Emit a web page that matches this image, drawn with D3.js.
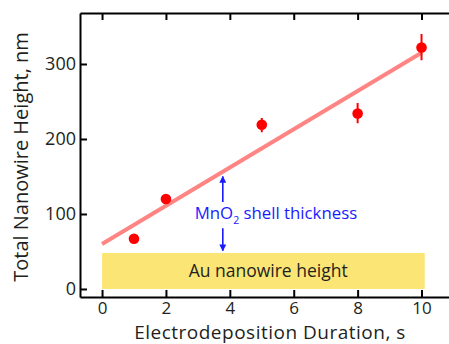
<!DOCTYPE html>
<html>
<head>
<meta charset="utf-8">
<script src="https://cdn.jsdelivr.net/npm/d3@7"></script>
<style>
  body { margin: 0; background: #fff; }
  text { font-family: "Open Sans", sans-serif; fill: #231f20; }
</style>
</head>
<body>
<div id="chart"></div>
<script>
// measured points: duration (s), height (nm), error bar extent
const durations = [1, 2, 5, 8, 10];
const heights = [67, 120, 219, 234, 322];
const errLow = [0, 0, 10, 13, 17];
const errHigh = [0, 0, 9, 14, 18];

// linear fit endpoints
const fitX = [0, 10];
const fitY = [60, 315];

const auHeight = 48;
const arrowX = 3.78;
const xTicks = [0, 2, 4, 6, 8, 10];
const yTicks = [0, 100, 200, 300];

const width = 449, height = 344;
const margin = {top: 13, right: 0, bottom: 47, left: 80};

const svg = d3.select('#chart').append('svg')
  .attr('width', width)
  .attr('height', height);

const x = d3.scaleLinear().domain([-0.69, 10.86]).range([margin.left, width - margin.right]);
const y = d3.scaleLinear().domain([-10.7, 368]).range([height - margin.bottom, margin.top]);

// Au nanowire band
svg.append('rect')
  .attr('x', x(0))
  .attr('y', y(auHeight))
  .attr('width', x(10.1) - x(0))
  .attr('height', y(0) - y(auHeight))
  .style('fill', '#fbe675');

svg.append('text')
  .attr('x', x(5.2))
  .attr('y', y(16))
  .attr('text-anchor', 'middle')
  .style('font-size', '17.5px')
  .text('Au nanowire height');

// fit line
svg.append('line')
  .attr('x1', x(fitX[0])).attr('y1', y(fitY[0]))
  .attr('x2', x(fitX[1])).attr('y2', y(fitY[1]))
  .style('stroke', '#ff8484')
  .style('stroke-width', 4);

// shell thickness arrows
const blue = '#1a1aff';
svg.append('defs').append('marker')
  .attr('id', 'arr')
  .attr('viewBox', '0 0 10 10')
  .attr('refX', 9).attr('refY', 5)
  .attr('markerWidth', 7).attr('markerHeight', 7)
  .attr('markerUnits', 'userSpaceOnUse')
  .attr('orient', 'auto')
  .append('path')
  .attr('d', 'M0,0 L10,5 L0,10 z')
  .style('fill', blue);

svg.append('line')
  .attr('x1', x(arrowX)).attr('y1', y(116))
  .attr('x2', x(arrowX)).attr('y2', y(150))
  .style('stroke', blue).style('stroke-width', 1.6)
  .attr('marker-end', 'url(#arr)');

svg.append('line')
  .attr('x1', x(arrowX)).attr('y1', y(81))
  .attr('x2', x(arrowX)).attr('y2', y(51))
  .style('stroke', blue).style('stroke-width', 1.6)
  .attr('marker-end', 'url(#arr)');

const label = svg.append('text')
  .attr('x', x(2.9))
  .attr('y', y(93))
  .style('font-size', '16.8px')
  .style('fill', blue);
label.append('tspan').style('fill', blue).text('MnO');
label.append('tspan').style('fill', blue).style('font-size', '10.5px').attr('dy', 5).text('2');
label.append('tspan').style('fill', blue).attr('dy', -5).text(' shell thickness');

// error bars
const pts = durations.map((d, i) => ({d: d, h: heights[i], lo: errLow[i], hi: errHigh[i]}));

svg.selectAll('.err')
  .data(pts.filter(p => p.lo + p.hi > 0))
  .enter().append('line')
  .attr('class', 'err')
  .attr('x1', p => x(p.d)).attr('x2', p => x(p.d))
  .attr('y1', p => y(p.h - p.lo)).attr('y2', p => y(p.h + p.hi))
  .style('stroke', '#ff0000')
  .style('stroke-width', 2);

svg.selectAll('.dot')
  .data(pts)
  .enter().append('circle')
  .attr('class', 'dot')
  .attr('cx', p => x(p.d))
  .attr('cy', p => y(p.h))
  .attr('r', 5.3)
  .style('fill', '#ff0000');

// axes (ticks point inward)
const xAxisB = d3.axisBottom(x).tickValues(xTicks).tickSizeInner(-7).tickSizeOuter(0).tickPadding(5);
const xAxisT = d3.axisTop(x).tickValues(xTicks).tickSizeInner(-7).tickSizeOuter(0).tickFormat('');
const yAxisL = d3.axisLeft(y).tickValues(yTicks).tickSizeInner(-7).tickSizeOuter(0).tickPadding(4);

function styleAxis(g, size) {
  g.select('.domain').style('stroke', '#000').style('stroke-width', 2);
  g.selectAll('.tick line').style('stroke', '#000').style('stroke-width', 2);
  g.selectAll('.tick text').style('font-size', size).style('font-family', '"Open Sans", sans-serif').style('fill', '#231f20');
}

svg.append('g')
  .attr('transform', 'translate(0,' + (height - margin.bottom) + ')')
  .call(xAxisB)
  .call(styleAxis, '17px');

svg.append('g')
  .attr('transform', 'translate(0,' + margin.top + ')')
  .call(xAxisT)
  .call(styleAxis, '17px');

svg.append('g')
  .attr('transform', 'translate(' + margin.left + ',0)')
  .call(yAxisL)
  .call(styleAxis, '18px');

// axis titles
svg.append('text')
  .attr('x', 270)
  .attr('y', 339)
  .attr('text-anchor', 'middle')
  .style('font-size', '19px')
  .style('letter-spacing', '0.5px')
  .text('Electrodeposition Duration, s');

svg.append('text')
  .attr('transform', 'translate(28,157) rotate(-90)')
  .attr('text-anchor', 'middle')
  .style('font-size', '20px')
  .text('Total Nanowire Height, nm');
</script>
</body>
</html>
